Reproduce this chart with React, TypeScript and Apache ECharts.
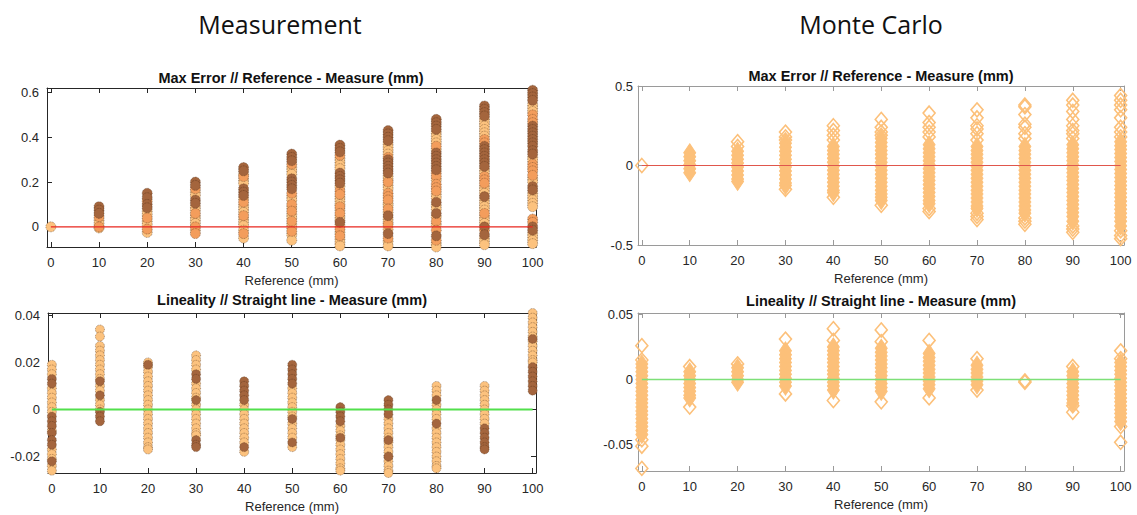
import React, { useEffect, useRef } from "react";
import * as echarts from "echarts";

// ---------- ticks ----------
const REF_MM = [0, 10, 20, 30, 40, 50, 60, 70, 80, 90, 100];
const ERR_MEAS_TICKS = [0, 0.2, 0.4, 0.6];
const LIN_MEAS_TICKS = [-0.02, 0, 0.02, 0.04];
const ERR_MC_TICKS = [-0.5, 0, 0.5];
const LIN_MC_TICKS = [-0.05, 0, 0.05];

// ---------- Measurement / Max error (one list per reference column) ----------
const errMeasDark: number[][] = [
  [],
  [0.09, 0.075, 0.06],
  [0.15, 0.13, 0.1, 0.085],
  [0.2, 0.185, 0.12, 0.105],
  [0.265, 0.25, 0.17, 0.155, 0.14],
  [0.325, 0.31, 0.295, 0.215, 0.2, 0.185, 0.17],
  [0.365, 0.35, 0.335, 0.24, 0.225, 0.21, 0.195, 0.02],
  [0.43, 0.415, 0.4, 0.385, 0.3, 0.285, 0.27, 0.255, 0.24, 0.05, -0.03],
  [0.48, 0.465, 0.45, 0.435, 0.33, 0.315, 0.3, 0.285, 0.27, 0.255, 0.11, 0.06, -0.04],
  [0.54, 0.525, 0.51, 0.495, 0.36, 0.345, 0.33, 0.315, 0.3, 0.285, 0.27, 0.135, 0.0, -0.035],
  [0.61, 0.595, 0.58, 0.565, 0.45, 0.435, 0.42, 0.405, 0.39, 0.375, 0.36, 0.34, 0.325, 0.18, 0.165, 0.0, -0.015],
];
const errMeasOrange: number[][] = [
  [],
  [0.045, 0.0],
  [0.115, 0.04, -0.01],
  [0.17, 0.06, 0.0, -0.03],
  [0.225, 0.11, 0.05, -0.03],
  [0.28, 0.15, 0.1, 0.07, 0.025, -0.02],
  [0.32, 0.16, 0.145, 0.09, 0.06, -0.01, -0.04],
  [0.31, 0.2, 0.15, 0.135, 0.12, 0.08, 0.01, -0.05],
  [0.36, 0.24, 0.225, 0.19, 0.175, 0.16, 0.025, -0.015, -0.06],
  [0.39, 0.375, 0.225, 0.21, 0.195, 0.06, -0.015],
  [0.5, 0.48, 0.465, 0.28, 0.265, 0.25, 0.23, 0.035, 0.02],
];
const errMeasLight: number[][] = [
  [0],
  [0.03, 0.015, -0.005],
  [0.07, 0.055, 0.025, 0.01, -0.025],
  [0.155, 0.14, 0.09, 0.075, 0.045, 0.03, 0.015, -0.015],
  [0.235, 0.21, 0.195, 0.125, 0.095, 0.08, 0.065, 0.035, 0.02, 0.005, -0.015, -0.05],
  [0.265, 0.25, 0.235, 0.135, 0.12, 0.085, 0.055, 0.04, 0.01, -0.005, -0.035, -0.06],
  [0.305, 0.29, 0.275, 0.26, 0.18, 0.13, 0.115, 0.1, 0.075, 0.045, 0.03, 0.005, -0.025, -0.055, -0.07, -0.085],
  [0.37, 0.355, 0.34, 0.325, 0.225, 0.21, 0.185, 0.17, 0.105, 0.095, 0.065, 0.035, 0.02, -0.01, -0.065, -0.085],
  [0.42, 0.405, 0.39, 0.375, 0.345, 0.21, 0.145, 0.13, 0.095, 0.08, 0.045, 0.01, -0.075, -0.09],
  [0.48, 0.465, 0.45, 0.435, 0.42, 0.405, 0.255, 0.24, 0.18, 0.165, 0.15, 0.12, 0.105, 0.09, 0.075, 0.045, 0.03, 0.015, -0.05, -0.065, -0.08],
  [0.545, 0.53, 0.515, 0.31, 0.295, 0.215, 0.2, 0.15, 0.135, 0.12, 0.105, 0.09, -0.03, -0.045, -0.06, -0.075],
];

// ---------- Measurement / Lineality ----------
const linMeasDark: number[][] = [
  [0.013, 0.011, -0.003, -0.005, -0.007, -0.01, -0.013, -0.015, -0.022],
  [0.012, 0.006, -0.001, -0.003, -0.005],
  [0.019],
  [0.015, 0.013, 0.004, -0.013, -0.015, -0.016],
  [0.012, 0.01, 0.008, 0.006, 0.004, -0.016],
  [0.019, 0.017, 0.015, 0.013, 0.011, -0.004, -0.014],
  [0.001, -0.001, -0.003, -0.005, -0.012],
  [0.004, 0.002, 0.0, -0.002, -0.013, -0.02],
  [0.004, -0.006],
  [-0.008, -0.01, -0.012, -0.014, -0.016, -0.017],
  [0.03, 0.018, 0.016, 0.014, 0.012, 0.01, 0.008],
];
const linMeasLight: number[][] = [
  [0.019, 0.017, 0.015, 0.009, 0.007, 0.005, 0.003, 0.001, -0.001, -0.009, -0.017, -0.019, -0.021, -0.024, -0.026],
  [0.034, 0.031, 0.027, 0.025, 0.023, 0.021, 0.019, 0.017, 0.015, 0.013, 0.01, 0.008, 0.004, 0.002, 0.0],
  [0.02, 0.018, 0.016, 0.014, 0.012, 0.01, 0.008, 0.006, 0.004, 0.002, 0.0, -0.002, -0.004, -0.006, -0.008, -0.01, -0.012, -0.014, -0.016, -0.017],
  [0.023, 0.021, 0.019, 0.017, 0.011, 0.009, 0.007, 0.005, 0.002, 0.0, -0.002, -0.004, -0.006, -0.008, -0.01, -0.011],
  [0.002, 0.0, -0.002, -0.004, -0.006, -0.008, -0.01, -0.012, -0.014, -0.018],
  [0.009, 0.007, 0.005, 0.003, 0.001, -0.001, -0.003, -0.006, -0.008, -0.01, -0.012, -0.016],
  [-0.007, -0.009, -0.011, -0.013, -0.015, -0.017, -0.019, -0.021, -0.023, -0.025, -0.026],
  [-0.004, -0.006, -0.008, -0.01, -0.012, -0.014, -0.016, -0.018, -0.02, -0.022, -0.024, -0.026, -0.027],
  [0.01, 0.008, 0.006, 0.002, 0.0, -0.002, -0.004, -0.008, -0.01, -0.012, -0.014, -0.016, -0.018, -0.02, -0.022, -0.024, -0.025],
  [0.01, 0.008, 0.006, 0.004, 0.002, 0.0, -0.002, -0.004, -0.006],
  [0.041, 0.039, 0.037, 0.035, 0.033, 0.031, 0.029, 0.027, 0.025, 0.023, 0.021, 0.02],
];

// ---------- Monte Carlo / Max error ----------
const errMcCore: number[][] = [
  [],
  [0.08, 0.055, 0.03, 0.005, -0.02, -0.045],
  [0.09, 0.065, 0.04, 0.015, -0.01, -0.035, -0.06, -0.085, -0.1],
  [0.14, 0.115, 0.09, 0.065, 0.04, 0.015, -0.01, -0.035, -0.06, -0.085, -0.11, -0.125],
  [0.12, 0.095, 0.07, 0.045, 0.02, -0.005, -0.03, -0.055, -0.08, -0.105, -0.13, -0.155, -0.17],
  [0.17, 0.145, 0.12, 0.095, 0.07, 0.045, 0.02, -0.005, -0.03, -0.055, -0.08, -0.105, -0.13, -0.155, -0.18, -0.2, -0.22],
  [0.13, 0.105, 0.08, 0.055, 0.03, 0.005, -0.02, -0.045, -0.07, -0.095, -0.12, -0.145, -0.17, -0.195, -0.22, -0.24],
  [0.12, 0.095, 0.07, 0.045, 0.02, -0.005, -0.03, -0.055, -0.08, -0.105, -0.13, -0.155, -0.18, -0.205, -0.23, -0.255, -0.27],
  [0.12, 0.095, 0.07, 0.045, 0.02, -0.005, -0.03, -0.055, -0.08, -0.105, -0.13, -0.155, -0.18, -0.205, -0.23, -0.255, -0.28, -0.3],
  [0.13, 0.105, 0.08, 0.055, 0.03, 0.005, -0.02, -0.045, -0.07, -0.095, -0.12, -0.145, -0.17, -0.195, -0.22, -0.245, -0.27, -0.295, -0.32, -0.35],
  [0.15, 0.125, 0.1, 0.075, 0.05, 0.025, 0.0, -0.025, -0.05, -0.075, -0.1, -0.125, -0.15, -0.175, -0.2, -0.225, -0.25, -0.275, -0.3, -0.325, -0.35, -0.38],
];
const errMcOutliers: number[][] = [
  [0],
  [],
  [0.15, 0.12],
  [0.21, 0.18, 0.16, -0.15],
  [0.25, 0.22, 0.19, 0.16, -0.2],
  [0.29, 0.24, 0.21, 0.19, -0.25],
  [0.33, 0.27, 0.24, 0.21, 0.18, -0.27, -0.29],
  [0.35, 0.3, 0.25, 0.23, 0.2, 0.16, -0.3, -0.32, -0.34],
  [0.38, 0.37, 0.32, 0.26, 0.24, 0.2, 0.17, -0.33, -0.35, -0.37],
  [0.41, 0.38, 0.34, 0.29, 0.25, 0.22, 0.2, 0.17, -0.38, -0.4, -0.42],
  [0.44, 0.41, 0.38, 0.35, 0.3, 0.24, 0.21, 0.18, -0.41, -0.44, -0.46],
];

// ---------- Monte Carlo / Lineality ----------
const linMcCore: number[][] = [
  [0.012, 0.009, 0.006, 0.003, 0.0, -0.003, -0.006, -0.009, -0.012, -0.015, -0.018, -0.021, -0.024, -0.027, -0.03, -0.033, -0.036, -0.039, -0.042],
  [0.006, 0.003, 0.0, -0.003, -0.006, -0.009, -0.012, -0.014],
  [0.009, 0.006, 0.003, 0.0, -0.002],
  [0.022, 0.019, 0.016, 0.013, 0.01, 0.007, 0.004, 0.001, -0.002, -0.005],
  [0.025, 0.022, 0.019, 0.016, 0.013, 0.01, 0.007, 0.004, 0.001, -0.002, -0.005, -0.008],
  [0.024, 0.021, 0.018, 0.015, 0.012, 0.009, 0.006, 0.003, 0.0, -0.003, -0.006, -0.009],
  [0.02, 0.017, 0.014, 0.011, 0.008, 0.005, 0.002, -0.001, -0.004, -0.007],
  [0.011, 0.008, 0.005, 0.002, -0.001, -0.004],
  [],
  [0.006, 0.003, 0.0, -0.003, -0.006, -0.009, -0.012, -0.015, -0.018],
  [0.013, 0.01, 0.007, 0.004, 0.001, -0.002, -0.005, -0.008, -0.011, -0.014, -0.017, -0.02, -0.023, -0.026, -0.029, -0.032],
];
const linMcOutliers: number[][] = [
  [0.026, 0.015, -0.046, -0.051, -0.068],
  [0.01, -0.021],
  [0.012],
  [0.031, -0.011],
  [0.039, 0.03, -0.016],
  [0.038, 0.029, -0.017],
  [0.03, -0.014],
  [0.016, -0.008],
  [-0.002, -0.001],
  [0.01, -0.025, -0.02],
  [0.022, 0.016, -0.036, -0.048],
];

const ZERO_LINE = [[0, 0], [100, 0]];

const FONT = "'Liberation Sans', Arial, Helvetica, sans-serif";
const DARK = "#a4653d";
const ORANGE = "#f39d5c";
const LIGHT = "#fcc27e";
const MC = "#fcc07a";

const pts = (cols: number[][]) => cols.flatMap((ys, i) => ys.map((y) => [REF_MM[i], y]));

function axes(g: number, yMin: number, yMax: number, yTicks: number[], axisColor: string, labelMargin: number) {
  const line = { show: true, onZero: false, lineStyle: { color: axisColor, width: 1 } };
  const tick = (vals: number[]) => ({ show: true, inside: true, length: 5, customValues: vals, lineStyle: { color: axisColor, width: 1 } });
  const label = (vals: number[], show: boolean, margin: number) => ({
    show, customValues: vals, margin, fontSize: 13, color: "#262626", fontFamily: FONT,
  });
  const xBase = { type: "value", gridIndex: g, min: -0.8, max: 100.7, splitLine: { show: false }, axisLine: line, axisTick: tick(REF_MM) };
  const yBase = { type: "value", gridIndex: g, min: yMin, max: yMax, splitLine: { show: false }, axisLine: line, axisTick: tick(yTicks) };
  return {
    x: [
      {
        ...xBase, position: "bottom", axisLabel: label(REF_MM, true, 9),
        name: "Reference (mm)", nameLocation: "middle", nameGap: 27,
        nameTextStyle: { fontSize: 13, color: "#262626", fontFamily: FONT },
      },
      { ...xBase, position: "top", axisLabel: label(REF_MM, false, 8) },
    ],
    y: [
      { ...yBase, position: "left", axisLabel: label(yTicks, true, labelMargin) },
      { ...yBase, position: "right", axisLabel: label(yTicks, false, 8) },
    ],
  };
}

export default function App() {
  const ref = useRef<HTMLDivElement>(null);
  useEffect(() => {
    if (!ref.current) return;
    const chart = echarts.init(ref.current, undefined, { renderer: "svg" });
    const a0 = axes(0, -0.09, 0.62, ERR_MEAS_TICKS, "#262626", 8);
    const a1 = axes(1, -0.027, 0.041, LIN_MEAS_TICKS, "#262626", 8);
    const a2 = axes(2, -0.5, 0.5, ERR_MC_TICKS, "#9a9a9a", 5);
    const a3 = axes(3, -0.07, 0.051, LIN_MC_TICKS, "#9a9a9a", 5);

    const measScatter = (g: number, cols: number[][], color: string, size: number) => ({
      type: "scatter", xAxisIndex: 2 * g, yAxisIndex: 2 * g, symbol: "circle", symbolSize: size, z: 2,
      itemStyle: { color, opacity: 1, borderColor: "rgba(70,40,20,0.6)", borderWidth: 0.8, borderType: "dotted" },
      data: pts(cols),
    });
    const mcScatter = (g: number, cols: number[][], filled: boolean, size: number[]) => ({
      type: "scatter", xAxisIndex: 2 * g, yAxisIndex: 2 * g, symbol: "diamond", symbolSize: size, z: 2,
      itemStyle: filled
        ? { color: MC, opacity: 1, borderColor: MC, borderWidth: 1 }
        : { color: "rgba(255,255,255,0)", opacity: 1, borderColor: MC, borderWidth: 1.6 },
      data: pts(cols),
    });
    const zero = (g: number, color: string, width: number) => ({
      type: "line", xAxisIndex: 2 * g, yAxisIndex: 2 * g, symbol: "none", z: 5,
      lineStyle: { color, width }, data: ZERO_LINE,
    });

    const texts = [
      { x: 280, y: 24, text: "Measurement", font: "25px 'Open Sans', 'Noto Sans', sans-serif" },
      { x: 871, y: 24, text: "Monte Carlo", font: "25px 'Open Sans', 'Noto Sans', sans-serif" },
      { x: 291, y: 78, text: "Max Error // Reference - Measure (mm)", font: `bold 14.5px ${FONT}` },
      { x: 292, y: 300, text: "Lineality // Straight line - Measure (mm)", font: `bold 14.5px ${FONT}` },
      { x: 881, y: 76, text: "Max Error // Reference - Measure (mm)", font: `bold 14.5px ${FONT}` },
      { x: 881, y: 301, text: "Lineality // Straight line - Measure (mm)", font: `bold 14.5px ${FONT}` },
    ];

    chart.setOption({
      animation: false,
      backgroundColor: "#ffffff",
      graphic: texts.map((t) => ({
        type: "text", x: t.x, y: t.y, z: 10,
        style: { text: t.text, font: t.font, fill: "#111", textAlign: "center", textVerticalAlign: "middle" },
      })),
      grid: [
        { left: 47, top: 88, width: 489, height: 159, containLabel: false },
        { left: 48, top: 313, width: 488, height: 160, containLabel: false },
        { left: 638, top: 86, width: 486, height: 159, containLabel: false },
        { left: 638, top: 313, width: 486, height: 158, containLabel: false },
      ],
      xAxis: [...a0.x, ...a1.x, ...a2.x, ...a3.x],
      yAxis: [...a0.y, ...a1.y, ...a2.y, ...a3.y],
      series: [
        measScatter(0, errMeasLight, LIGHT, 10),
        measScatter(0, errMeasOrange, ORANGE, 10),
        measScatter(0, errMeasDark, DARK, 10),
        zero(0, "#e8261e", 1.3),
        measScatter(1, linMeasLight, LIGHT, 9),
        measScatter(1, linMeasDark, DARK, 9),
        zero(1, "#52e04c", 2),
        mcScatter(2, errMcCore, true, [12, 18]),
        mcScatter(2, errMcOutliers, false, [12, 14]),
        zero(2, "#e0564c", 1),
        mcScatter(3, linMcCore, true, [12, 18]),
        mcScatter(3, linMcOutliers, false, [12, 14]),
        zero(3, "#7ee078", 1.5),
      ],
    });
    return () => chart.dispose();
  }, []);
  return <div ref={ref} style={{ position: "absolute", left: 0, top: 0, width: 1137, height: 515, background: "#fff" }} />;
}
